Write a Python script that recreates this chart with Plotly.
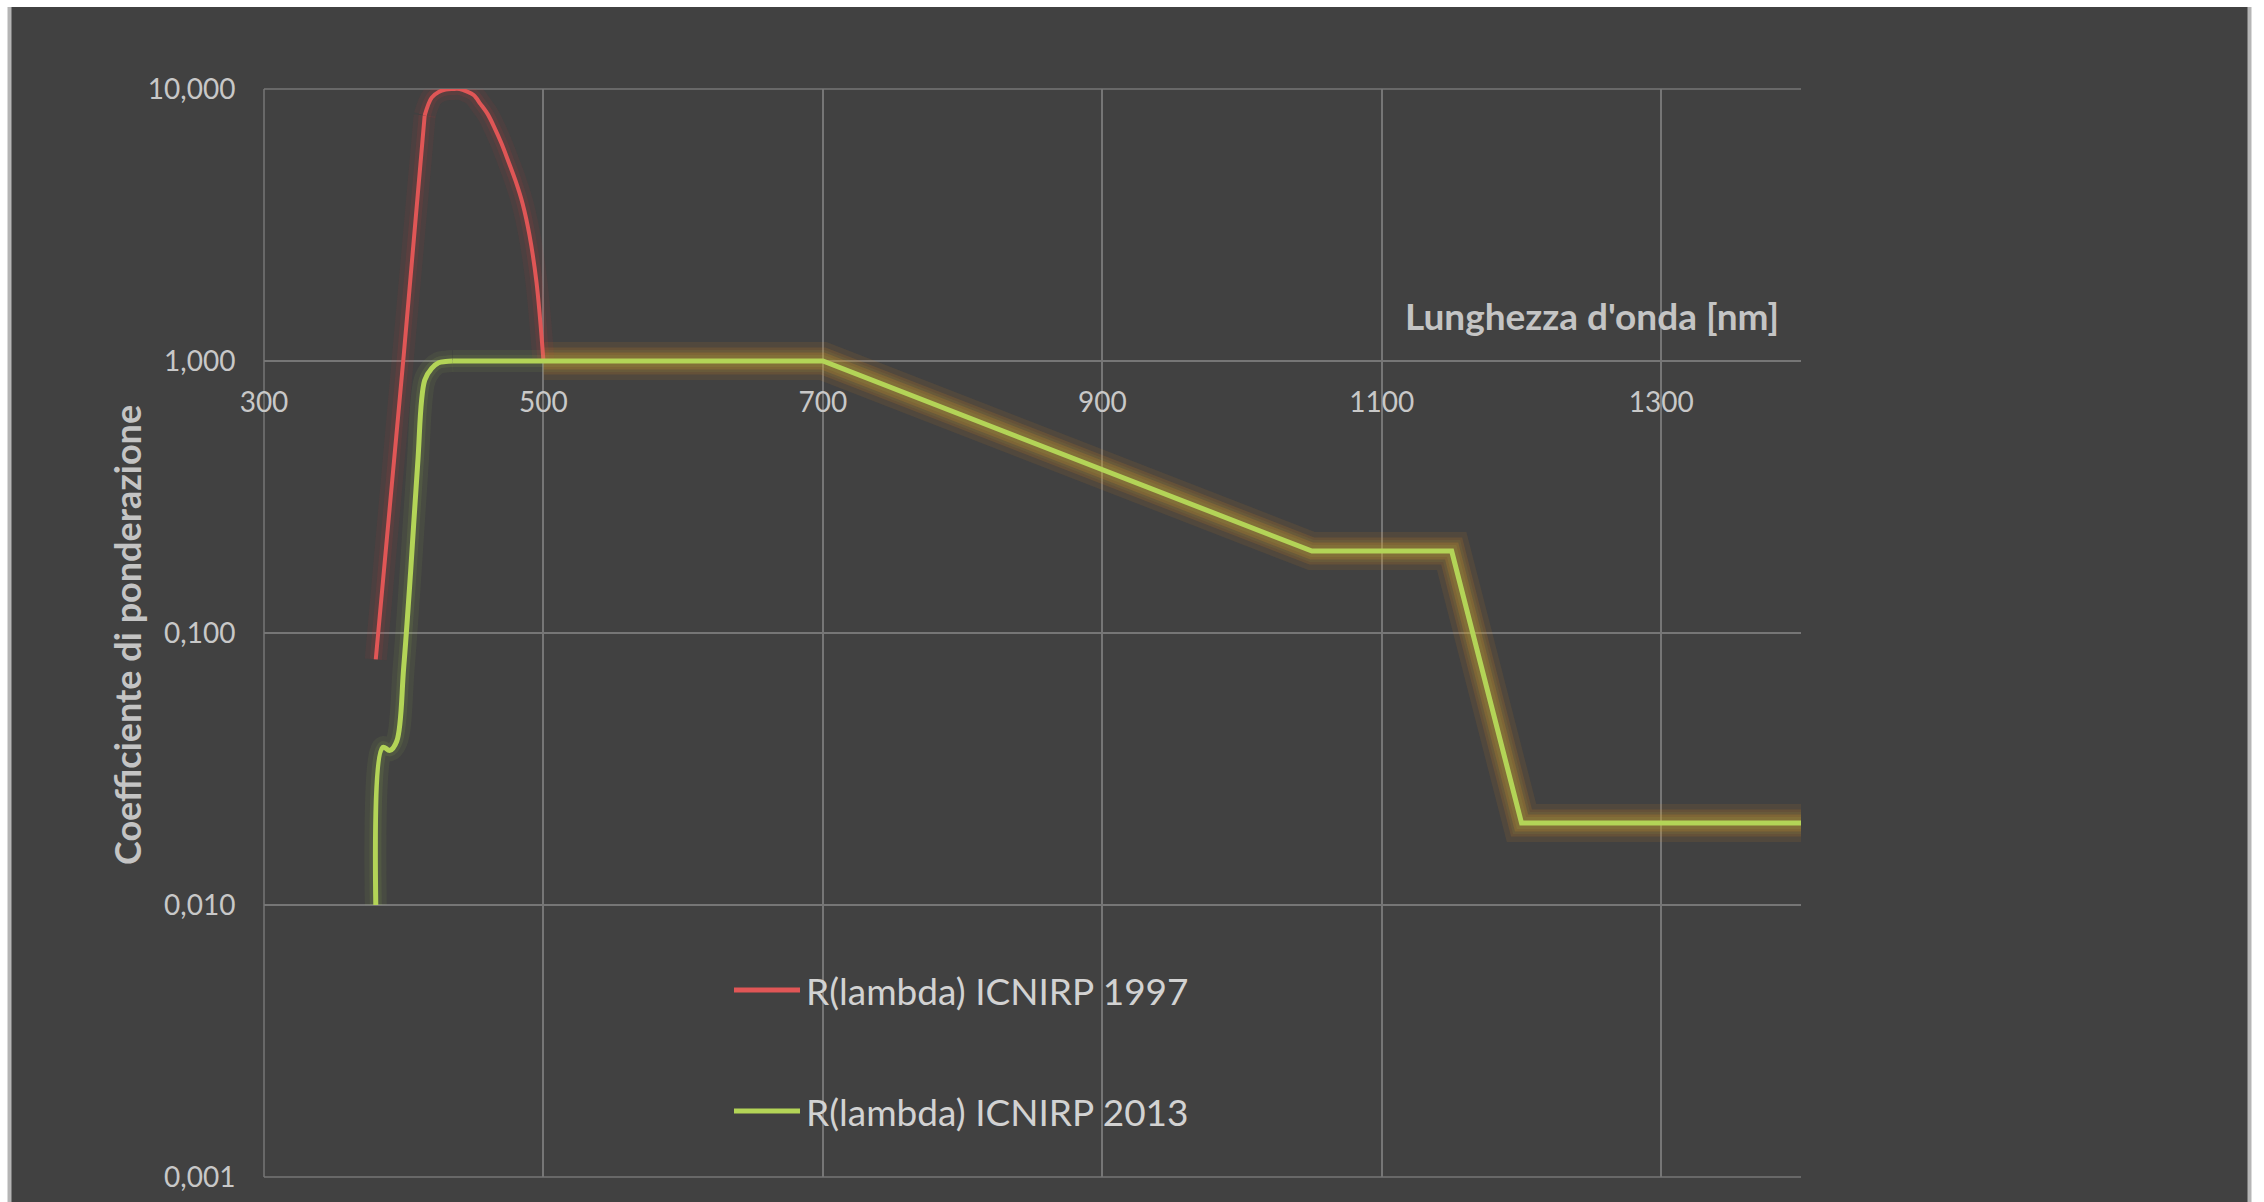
import plotly.graph_objects as go

# Retinal thermal hazard weighting function R(lambda)
wavelength_1997 = [380, 400, 415, 420, 425, 430, 435, 440, 445, 450, 455,
                   460, 465, 470, 475, 480, 485, 490, 495, 500]
r_1997 = [0.08, 1.05, 8.0, 9.3, 9.75, 9.95, 10.0, 10.0, 9.8, 9.5, 8.8,
          8.1, 7.2, 6.3, 5.4, 4.6, 3.8, 2.9, 1.95, 1.0]

wavelength_2013 = [380, 385, 390, 395, 400, 405, 410, 415, 420, 425, 430, 435,
                   500, 700, 1050, 1150, 1200, 1400]
r_2013 = [0.010, 0.038, 0.037, 0.040, 0.075, 0.17, 0.42, 0.85, 0.94, 0.985, 0.995, 1.0,
          1.0, 1.0, 0.2, 0.2, 0.02, 0.02]

series_names = ["R(lambda) ICNIRP 1997", "R(lambda) ICNIRP 2013"]

x_ticks = [300, 500, 700, 900, 1100, 1300]
x_tick_labels = ["300", "500", "700", "900", "1100", "1300"]
y_ticks = [0.001, 0.01, 0.1, 1, 10]
y_tick_labels = ["0,001", "0,010", "0,100", "1,000", "10,000"]

x_title = "Lunghezza d'onda [nm]"
y_title = "Coefficiente di ponderazione"

RED = "#e05656"
GREEN = "#b3d457"
BG = "#414141"
GRID = "#767676"
TEXT = "#c8c8c8"
FONT = "Lato"

# page geometry (pixels) of the plotting area
L, R, T, B = 264, 463, 89, 25
W, H = 2264, 1202
PW, PH = W - L - R, H - T - B


def px_x(px):
    return (px - L) / PW


def px_y(py):
    return (H - B - py) / PH


fig = go.Figure()


def add_line(x, y, color, width, shape):
    fig.add_trace(go.Scatter(
        x=x, y=y, mode="lines",
        line=dict(color=color, width=width, shape=shape, smoothing=1),
        hoverinfo="skip", showlegend=False,
    ))


def add_series(x, y, segments, color, width, glow=None):
    """segments: list of (start index, end index inclusive, line shape)."""
    for a, b, shape in segments:
        if glow:
            for gw, gc in glow:
                add_line(x[a:b + 1], y[a:b + 1], gc, gw, shape)
    for a, b, shape in segments:
        add_line(x[a:b + 1], y[a:b + 1], color, width, shape)


i415 = wavelength_1997.index(415)
red_segments = [(0, i415, "linear"), (i415, len(wavelength_1997) - 1, "spline")]

i435 = wavelength_2013.index(435)
i500 = wavelength_2013.index(500)
green_segments = [(0, i435, "spline"), (i435, len(wavelength_2013) - 1, "linear")]

# soft halos under the curves
red_glow = [(22, "rgba(225,60,60,0.07)"), (12, "rgba(225,60,60,0.10)")]
green_glow = [(22, "rgba(170,210,80,0.07)"), (12, "rgba(170,210,80,0.10)")]
orange_glow = [(38, "rgba(230,140,30,0.10)"), (27, "rgba(230,140,30,0.14)"),
               (17, "rgba(230,150,40,0.18)")]

# orange halo along the plateau and the infrared tail of the 2013 curve
for gw, gc in orange_glow:
    add_line(wavelength_2013[i500:], r_2013[i500:], gc, gw, "linear")

add_series(wavelength_1997, r_1997, red_segments, RED, 4, red_glow)
add_series(wavelength_2013, r_2013, green_segments, GREEN, 5, green_glow)

frame = dict(color=GRID, width=1.5)

fig.update_layout(
    width=W, height=H,
    margin=dict(l=L, r=R, t=T, b=B, autoexpand=False),
    paper_bgcolor="white",
    plot_bgcolor=BG,
    showlegend=False,
    font=dict(family=FONT, color=TEXT),
    shapes=[
        # dark chart panel on the white page
        dict(type="rect", xref="paper", yref="paper",
             x0=px_x(8), x1=px_x(2251), y0=px_y(H + 10), y1=px_y(7),
             fillcolor=BG, line=dict(width=0), layer="below"),
        dict(type="line", xref="paper", yref="paper",
             x0=px_x(9.5), x1=px_x(9.5), y0=px_y(H + 10), y1=px_y(7),
             line=dict(color="#b5b5b5", width=4), layer="below"),
        dict(type="line", xref="paper", yref="paper",
             x0=px_x(2249.5), x1=px_x(2249.5), y0=px_y(H + 10), y1=px_y(7),
             line=dict(color="#b5b5b5", width=4), layer="below"),
        # vertical axis line and the outer decade lines of the plot area
        dict(type="line", xref="paper", yref="paper", x0=0, x1=0, y0=0, y1=1,
             line=frame, layer="below"),
        dict(type="line", xref="paper", yref="paper", x0=0, x1=1, y0=0, y1=0,
             line=frame, layer="below"),
        dict(type="line", xref="paper", yref="paper", x0=0, x1=1, y0=1, y1=1,
             line=frame, layer="below"),
    ],
    xaxis=dict(
        range=[300, 1400],
        tickmode="array", tickvals=x_ticks, ticktext=x_tick_labels,
        showgrid=True, gridcolor=GRID, gridwidth=1.5,
        zeroline=False, showline=False, automargin=False,
        anchor="free", position=0.75,
        ticks="outside", ticklen=16, tickcolor="rgba(0,0,0,0)",
        tickfont=dict(family=FONT, size=28, color=TEXT),
    ),
    yaxis=dict(
        type="log", range=[-3, 1],
        tickmode="array", tickvals=y_ticks, ticktext=y_tick_labels,
        showgrid=True, gridcolor=GRID, gridwidth=1.5,
        zeroline=False, showline=False, automargin=False,
        ticks="outside", ticklen=22, tickcolor="rgba(0,0,0,0)",
        tickfont=dict(family=FONT, size=28, color=TEXT),
    ),
)

# axis titles
fig.add_annotation(
    text=x_title, xref="paper", yref="paper",
    x=px_x(1781), y=px_y(315),
    xanchor="right", yanchor="middle", showarrow=False,
    font=dict(family=FONT, size=37, color="#c4c4c4", weight="bold"),
)
fig.add_annotation(
    text=y_title, xref="paper", yref="paper",
    x=px_x(127), y=px_y(635), textangle=-90,
    xanchor="center", yanchor="middle", showarrow=False,
    font=dict(family=FONT, size=36, color="#c4c4c4", weight="bold"),
)

# legend entries
for name, color, ypx in zip(series_names, [RED, GREEN], [990, 1111]):
    fig.add_shape(type="line", xref="paper", yref="paper",
                  x0=px_x(734), x1=px_x(800), y0=px_y(ypx), y1=px_y(ypx),
                  line=dict(color=color, width=5))
    fig.add_annotation(
        text=name, xref="paper", yref="paper",
        x=px_x(804), y=px_y(ypx), xanchor="left", yanchor="middle",
        showarrow=False, font=dict(family=FONT, size=37, color="#d2d2d2"),
    )

fig.write_html("out.html")
